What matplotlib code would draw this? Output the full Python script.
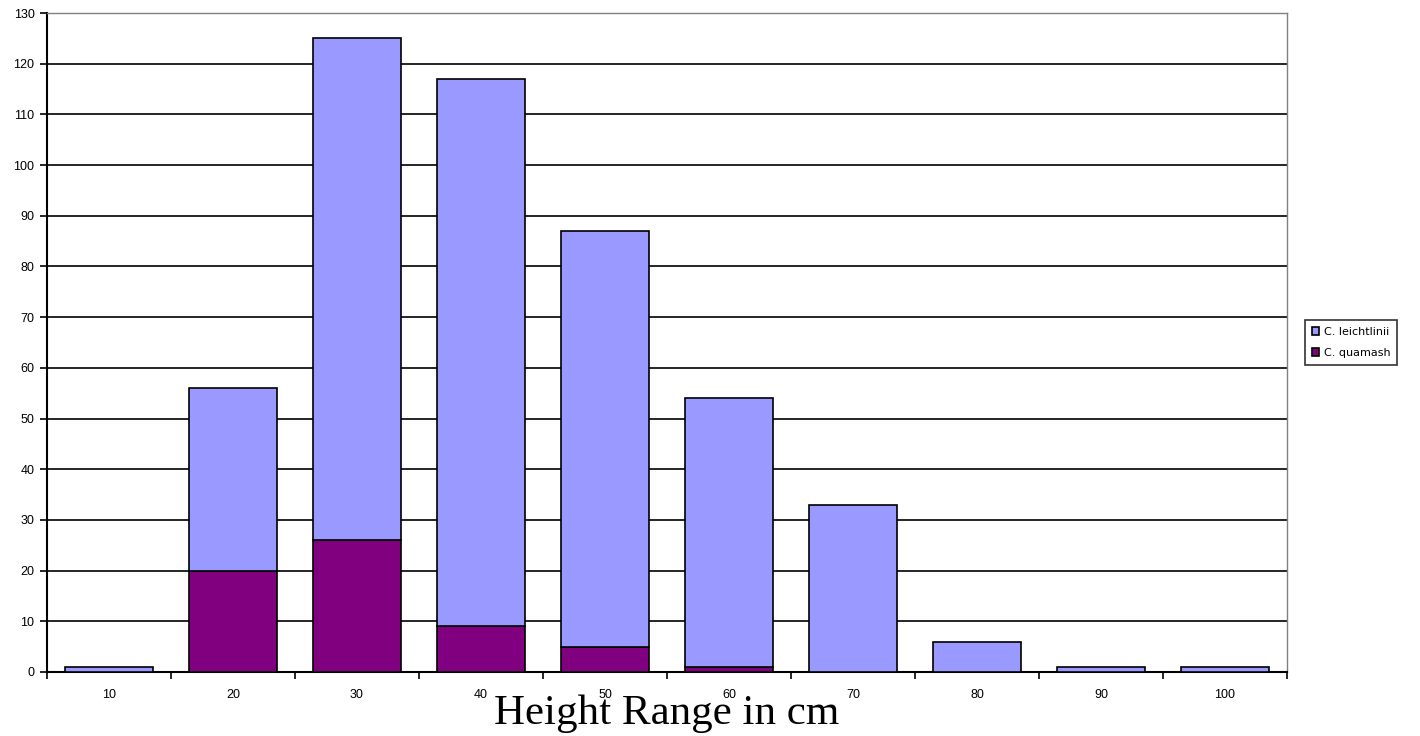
import matplotlib
matplotlib.use("Agg")
import matplotlib.pyplot as plt
import numpy as np

categories = ["10", "20", "30", "40", "50", "60", "70", "80", "90", "100"]
quamash = [0, 20, 26, 9, 5, 1, 0, 0, 0, 0]
leichtlinii = [1, 36, 99, 108, 82, 53, 33, 6, 1, 1]
series_names = ["C. leichtlinii", "C. quamash"]

light = "#9999ff"
dark = "#800080"

fig = plt.figure(figsize=(14.2, 7.36), dpi=100)
ax = fig.add_axes([47 / 1420, 64 / 736, 1240 / 1420, 659 / 736])

x = np.arange(len(categories))
w = 0.71
b1 = ax.bar(x, quamash, w, color=dark, edgecolor="black", linewidth=1.2, zorder=3)
b2 = ax.bar(x, leichtlinii, w, bottom=quamash, color=light, edgecolor="black",
            linewidth=1.2, zorder=3)

ax.set_xlim(-0.5, len(categories) - 0.5)
ax.set_ylim(0, 130)
ax.set_yticks(np.arange(0, 131, 10))
ax.grid(axis="y", color="black", linewidth=1.2, zorder=0)

ax.set_xticks(x)
ax.set_xticklabels(categories, fontsize=9, family="Liberation Sans")
ax.tick_params(axis="x", which="major", length=0, pad=12)
ax.set_xticks(np.arange(-0.5, len(categories)), minor=True)
ax.tick_params(axis="x", which="minor", length=5, width=1.2, direction="out")
ax.tick_params(axis="y", length=5, width=1.2, labelsize=9, pad=4)
for lab in ax.get_yticklabels():
    lab.set_family("Liberation Sans")

for s in ["left", "bottom"]:
    ax.spines[s].set_color("black")
    ax.spines[s].set_linewidth(1.5)
for s in ["top", "right"]:
    ax.spines[s].set_color("#808080")
    ax.spines[s].set_linewidth(1.0)

# the title sits over the tick labels, as in the original
ax.set_xlabel("Height Range in cm", fontsize=31, family="Liberation Serif")
ax.xaxis.set_label_coords(0.5, -42 / 659)
ax.xaxis.label.set_va("center")

leg = ax.legend([b2, b1], series_names, loc="center left", bbox_to_anchor=(1.01, 0.5),
                fontsize=8, frameon=True, fancybox=False, edgecolor="black",
                handlelength=0.7, handleheight=0.7, handletextpad=0.4,
                borderpad=0.6, labelspacing=1.0)
leg.get_frame().set_linewidth(1.2)

fig.savefig("out.png", dpi=100)
